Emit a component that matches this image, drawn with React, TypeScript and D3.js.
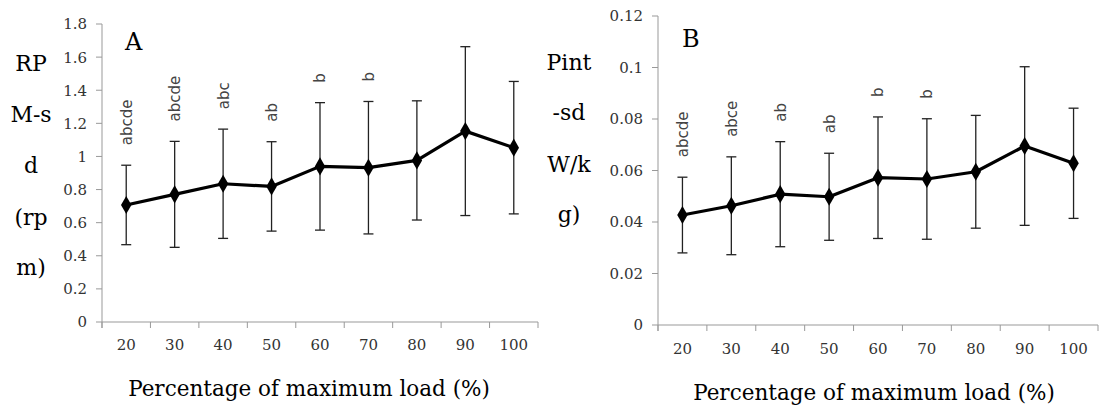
import React from "react";
import * as d3 from "d3";

const loads = ["20", "30", "40", "50", "60", "70", "80", "90", "100"];

const rpmMean = [0.707, 0.771, 0.835, 0.819, 0.94, 0.932, 0.976, 1.153, 1.053];
const rpmSd = [0.24, 0.32, 0.33, 0.27, 0.385, 0.4, 0.36, 0.51, 0.4];
const rpmLetters = ["abcde", "abcde", "abc", "ab", "b", "b", "", "", ""];
const rpmTicks = [0, 0.2, 0.4, 0.6, 0.8, 1, 1.2, 1.4, 1.6, 1.8];
const rpmLabel = ["RP", "M-s", "d", "(rp", "m)"];

const pintMean = [0.0427, 0.0463, 0.0508, 0.0498, 0.0572, 0.0567, 0.0595, 0.0695, 0.0628];
const pintSd = [0.0147, 0.019, 0.0204, 0.0169, 0.0236, 0.0234, 0.0219, 0.0308, 0.0214];
const pintLetters = ["abcde", "abce", "ab", "ab", "b", "b", "", "", ""];
const pintTicks = [0, 0.02, 0.04, 0.06, 0.08, 0.1, 0.12];
const pintLabel = ["Pint", "-sd", "W/k", "g)"];

const xTitle = "Percentage of maximum load (%)";

const SERIF = "'DejaVu Serif', serif";
const SANS = "'DejaVu Sans', sans-serif";
const AXIS = "#999";

type PanelProps = {
  x0: number;
  x1: number;
  yTop: number;
  yBottom: number;
  yMax: number;
  ticks: number[];
  fmt: (v: number) => string;
  mean: number[];
  sd: number[];
  letters: string[];
  label: string[];
  labelX: number;
  labelBaselines: number[];
  tag: string;
  tagX: number;
  tagY: number;
  tickLabelY: number;
  titleX: number;
  titleY: number;
};

function Panel(p: PanelProps) {
  const x = d3.scaleBand<string>().domain(loads).range([p.x0, p.x1]).padding(0);
  const y = d3.scaleLinear().domain([0, p.yMax]).range([p.yBottom, p.yTop]);
  const cx = (i: number) => (x(loads[i]) as number) + x.bandwidth() / 2;
  const line = d3
    .line<number>()
    .x((_, i) => cx(i))
    .y((d) => y(d));
  const diamond = d3.symbol().type(d3.symbolDiamond).size(95)();
  const bounds = [...loads.map((l) => x(l) as number), p.x1];

  return (
    <g>
      {/* y axis */}
      <line x1={p.x0} x2={p.x0} y1={p.yTop} y2={p.yBottom + 6} stroke={AXIS} strokeWidth={1} />
      {p.ticks.map((t) => (
        <g key={t}>
          <line x1={p.x0 - 6} x2={p.x0} y1={y(t)} y2={y(t)} stroke={AXIS} strokeWidth={1} />
          <text
            x={p.x0 - 15}
            y={y(t)}
            dy="0.36em"
            textAnchor="end"
            fontFamily={SERIF}
            fontSize={15}
            fill="#333"
          >
            {p.fmt(t)}
          </text>
        </g>
      ))}
      {/* x axis */}
      <line x1={p.x0} x2={p.x1} y1={p.yBottom} y2={p.yBottom} stroke={AXIS} strokeWidth={1} />
      {bounds.map((b, i) => (
        <line key={i} x1={b} x2={b} y1={p.yBottom} y2={p.yBottom + 6} stroke={AXIS} strokeWidth={1} />
      ))}
      {loads.map((l, i) => (
        <text
          key={l}
          x={cx(i)}
          y={p.tickLabelY}
          textAnchor="middle"
          fontFamily={SERIF}
          fontSize={15}
          fill="#333"
        >
          {l}
        </text>
      ))}
      {/* error bars */}
      {p.mean.map((m, i) => {
        const hi = y(m + p.sd[i]);
        const lo = y(m - p.sd[i]);
        const c = cx(i);
        return (
          <g key={i} stroke="#222" strokeWidth={1.3}>
            <line x1={c} x2={c} y1={hi} y2={lo} />
            <line x1={c - 5} x2={c + 5} y1={hi} y2={hi} />
            <line x1={c - 5} x2={c + 5} y1={lo} y2={lo} />
          </g>
        );
      })}
      {/* mean line */}
      <path d={line(p.mean) || ""} fill="none" stroke="#000" strokeWidth={3.2} strokeLinejoin="round" />
      {p.mean.map((m, i) => (
        <path key={i} d={diamond || ""} transform={`translate(${cx(i)},${y(m)})`} fill="#000" />
      ))}
      {/* letters */}
      {p.letters.map((s, i) =>
        s ? (
          <text
            key={i}
            transform={`translate(${cx(i)},${y(p.mean[i] + p.sd[i]) - 20}) rotate(-90)`}
            dy="0.36em"
            textAnchor="start"
            fontFamily={SANS}
            fontSize={15}
            fill="#444"
          >
            {s}
          </text>
        ) : null
      )}
      {/* y label */}
      {p.label.map((s, i) => (
        <text
          key={i}
          x={p.labelX}
          y={p.labelBaselines[i]}
          textAnchor="middle"
          fontFamily={SERIF}
          fontSize={22}
          fill="#000"
        >
          {s}
        </text>
      ))}
      <text x={p.tagX} y={p.tagY} fontFamily={SERIF} fontSize={24} fill="#000">
        {p.tag}
      </text>
      <text
        x={p.titleX}
        y={p.titleY}
        textAnchor="middle"
        fontFamily={SERIF}
        fontSize={21.5}
        fill="#000"
      >
        {xTitle}
      </text>
    </g>
  );
}

export default function App() {
  const fmtA = (v: number) => (v === 0 ? "0" : d3.format("")(+v.toFixed(1)));
  const fmtB = (v: number) => (v === 0 ? "0" : String(+v.toFixed(2)));
  return (
    <svg
      width={1100}
      height={410}
      style={{ position: "absolute", left: 0, top: 0, background: "#fff" }}
    >
      <rect width={1100} height={410} fill="#fff" />
      <Panel
        x0={102}
        x1={538}
        yTop={24}
        yBottom={322}
        yMax={1.8}
        ticks={rpmTicks}
        fmt={fmtA}
        mean={rpmMean}
        sd={rpmSd}
        letters={rpmLetters}
        label={rpmLabel}
        labelX={31}
        labelBaselines={[71, 122, 173, 225, 275]}
        tag="A"
        tagX={125}
        tagY={50}
        tickLabelY={349.5}
        titleX={309}
        titleY={396}
      />
      <Panel
        x0={658}
        x1={1098}
        yTop={16}
        yBottom={325}
        yMax={0.12}
        ticks={pintTicks}
        fmt={fmtB}
        mean={pintMean}
        sd={pintSd}
        letters={pintLetters}
        label={pintLabel}
        labelX={569}
        labelBaselines={[70, 120, 172, 222]}
        tag="B"
        tagX={682}
        tagY={47}
        tickLabelY={353.5}
        titleX={874}
        titleY={400}
      />
    </svg>
  );
}
